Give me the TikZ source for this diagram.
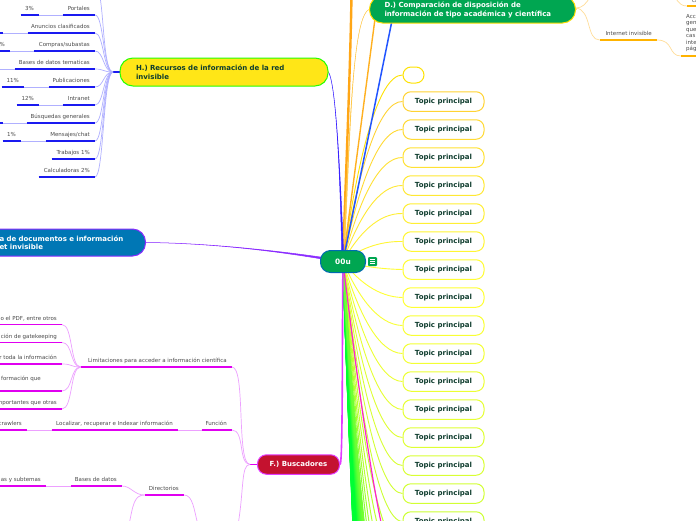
\documentclass[tikz,border=0pt]{standalone}
\usepackage{fontspec}
\setmainfont{DejaVu Sans}
\usetikzlibrary{calc}
\pgfdeclarelayer{bg}
\pgfsetlayers{bg,main}
\definecolor{inkd}{HTML}{0F3D2E}
\definecolor{inkg}{HTML}{4A4A4A}
\definecolor{ublue}{HTML}{1A1AF0}
\definecolor{lblue}{HTML}{B0B0FF}
\definecolor{umag}{HTML}{E000F0}
\definecolor{lmag}{HTML}{EDA0FF}
\definecolor{uora}{HTML}{FFB300}
\definecolor{lora}{HTML}{FFDD99}
\definecolor{dgreen}{HTML}{00A651}
\definecolor{hfill}{HTML}{FFE617}
\definecolor{bfill}{HTML}{0077B5}
\definecolor{ffill}{HTML}{C4122F}
\definecolor{vlink}{HTML}{8A2BFF}
\definecolor{flink}{HTML}{E23CFF}
\definecolor{oa}{HTML}{FFA616}
\definecolor{ob}{HTML}{FFB020}
\definecolor{oc}{HTML}{FFC84A}
\definecolor{bl}{HTML}{2255FF}
\definecolor{hl}{HTML}{3A22FF}
\definecolor{pk}{HTML}{FF20D0}
\tikzset{
  lbl/.style={anchor=south east,font=\fontsize{5.5}{6.5}\selectfont,text=inkg,inner xsep=5pt,inner ysep=3pt,text height=4pt,text depth=1.2pt},
  main topic/.style={rounded corners=13pt,line width=1pt,inner ysep=0pt,align=left,font=\fontsize{7}{9}\selectfont\bfseries},
  topicbox/.style={draw,fill=white,rounded corners=8pt,line width=1pt,minimum width=81pt,minimum height=19.5pt,inner sep=0pt,text=inkd,font=\fontsize{7}{8}\selectfont\bfseries},
}
\newcommand{\lf}[6]{%
  \pgfmathsetlengthmacro{\lfw}{#3-#2-10}%
  \node[lbl] (#1) at (#3,#4) {\makebox[\lfw][r]{#5}};
  \draw[#6,line width=1.2pt] (#1.south west) -- (#1.south east);
}
\newcommand{\taper}[6]{\filldraw[#1,line width=.5pt] ($(#2)+(#6)$) .. controls (#4) and (#5) .. (#3) .. controls (#5) and (#4) .. ($(#2)-(#6)$) -- cycle;}
\begin{document}
\begin{tikzpicture}[x=1pt,y=-1pt]
\useasboundingbox (0,0) rectangle (696,520);
\begin{pgfonlayer}{bg}
\fill[white] (0,0) rectangle (696,520);
\end{pgfonlayer}

% main nodes
\node[fill=dgreen,draw=blue!40!cyan!70!black,line width=1pt,rounded corners=10pt,minimum width=45pt,minimum height=22pt,inner sep=0pt,text=white,font=\fontsize{7.4}{9}\selectfont\bfseries] (root) at (343,261.5) {00u};
\node[main topic,fill=hfill,draw=green!85!yellow,text=inkd,anchor=west,text width=176pt,inner xsep=16pt,minimum height=28pt] (H) at (119.5,72) {H.) Recursos de información de la red\\invisible};
\node[main topic,fill=dgreen,draw=yellow!80!orange,text=white,anchor=west,text width=176pt,inner xsep=15pt,minimum height=27pt] (D) at (369,9.5) {D.) Comparación de disposición de\\información de tipo académica y científica};
\node[main topic,fill=bfill,draw=vlink,text=white,anchor=east,text width=130pt,inner xsep=16pt,minimum height=27pt,font=\fontsize{7}{8.5}\selectfont\bfseries] (B) at (146,242.5) {a de documentos e información\\et invisible};
\node[main topic,fill=ffill,draw=flink,text=white,rounded corners=9pt,minimum width=82pt,minimum height=19.5pt,inner xsep=0pt,align=center,font=\fontsize{7}{9}\selectfont\bfseries] (F) at (298.5,464.5) {F.) Buscadores};

% note icon
\node[fill=dgreen,rounded corners=1pt,minimum size=9pt,inner sep=0pt] (note) at (372.5,261.5) {};
\draw[white,line width=.7pt] ($(note.center)+(-2.5,-2.2)$) -- ++(5,0) ++(-5,2.2) -- ++(5,0) ++(-5,2.2) -- ++(5,0);

% far coordinates
\coordinate (orangeTop) at (351.5,-4);
\coordinate (orangeMid) at (378,-4);
\coordinate (blueTop) at (397,-4);
\coordinate (magEnd) at (386,545);
\coordinate (Fhub) at (250,464.5);
\coordinate (Hhub) at (113,72);
\coordinate (Dhub) at (576,8);
\coordinate (Ftop) at (590,-3);
\coordinate (Hup) at (100,-3);
\coordinate (Fdown) at (238,525);
\coordinate (DirA) at (129,525);
\coordinate (DirB) at (198,525);
\coordinate (topR) at (675,-3);

% topics fan, behind everything
\node[topicbox,draw=yellow!85!orange,minimum width=21pt,minimum height=16pt] (t) at (413.5,75) {};
\begin{pgfonlayer}{bg}
\draw[yellow!85!orange,line width=.9pt] (root.center) .. controls (358,157) and (378,75) .. (t.west);
\end{pgfonlayer}
\foreach \n in {0,...,15}{
  \pgfmathsetmacro{\Y}{101+28*\n}
  \pgfmathsetmacro{\cy}{261+0.55*(\Y-261)}
  \pgfmathsetmacro{\rr}{max(0,min(1,1-(\Y-300)/1100))}
  \pgfmathsetmacro{\gg}{min(1,0.8+0.2*(\Y-75)/200)}
  \definecolor{tc}{rgb}{\rr,\gg,0.2}
  \node[topicbox,draw=tc] (t\n) at (443.5,\Y+.5) {Topic principal};
  \begin{pgfonlayer}{bg}
  \draw[tc,line width=.9pt] (root.center) .. controls (358,\cy) and (378,\Y) .. (t\n.west);
  \end{pgfonlayer}
}
\begin{pgfonlayer}{bg}
\foreach \Y in {549,577,...,700}{
  \pgfmathsetmacro{\cy}{261+0.55*(\Y-261)}
  \pgfmathsetmacro{\rr}{\Y<600 ? 1-(\Y-300)/1100 : max(0,0.73*(850-\Y)/250)}
  \definecolor{tc}{rgb}{\rr,1,0.2}
  \coordinate (far) at (403,\Y);
  \draw[tc,line width=1pt] (root.center) .. controls (358,\cy) and (378,\Y) .. (far);
}
\foreach \Y in {1060,1055,...,700}{
  \pgfmathsetmacro{\cy}{261+0.55*(\Y-261)}
  \pgfmathsetmacro{\rr}{max(0,0.73*(850-\Y)/250)}
  \definecolor{tc}{rgb}{\rr,1,0.2}
  \coordinate (far) at (403,\Y);
  \draw[tc,line width=1.5pt] (root.center) .. controls (358,\cy) and (378,\Y) .. (far);
}
% upward links
\draw[oa,line width=2.4pt] (root.center) .. controls (346,170) and (350,80) .. (orangeTop);
\taper{oc}{root.center}{D.west}{350,150}{351,18}{.9,0}
\draw[ob,line width=1.4pt] (root.center) -- (orangeMid);
\draw[bl,line width=1.5pt] (root.center) -- (blueTop);
\taper{hl}{root.center}{H.east}{340,170}{336,85}{1,0}
\taper{vlink}{root.center}{B.east}{275,250}{205,243}{0,1.2}
\draw[flink,line width=1.6pt] (root.center) .. controls (342,330) and (343,466) .. (F.east);
\draw[pk,line width=1.2pt] (root.center) .. controls (350,320) and (368,470) .. (magEnd);
% hubs
\draw[ublue,line width=1.4pt] (Hhub) -- (H.west);
\draw[umag,line width=1.2pt] (Fhub) -- (F.west);
\draw[lora,line width=1.4pt] (Dhub) -- (D.east);
\end{pgfonlayer}

% H branch
\lf{por}{63}{95}{15}{Portales}{ublue}
\lf{tres}{21}{39}{15}{3\%}{ublue}
\lf{anu}{28}{95}{33}{Anuncios clasificados}{ublue}
\lf{anub}{-6}{3}{33}{}{ublue}
\lf{com}{34}{95}{51}{Compras/subastas}{ublue}
\lf{comb}{-20}{10}{51}{9\%}{ublue}
\lf{bas}{15}{95}{69}{Bases de datos tematicas}{ublue}
\lf{basb}{-20}{-4}{69}{}{ublue}
\lf{pub}{49}{95}{87}{Publicaciones}{ublue}
\lf{once}{2}{24}{87}{11\%}{ublue}
\lf{int}{63}{95}{105}{Intranet}{ublue}
\lf{doce}{17}{39}{105}{12\%}{ublue}
\lf{bus}{27}{95}{123}{Búsquedas generales}{ublue}
\lf{busb}{-6}{3}{123}{}{ublue}
\lf{men}{46}{95}{141}{Mensajes/chat}{ublue}
\lf{uno}{3}{21}{141}{1\%}{ublue}
\lf{tra}{52}{95}{159}{Trabajos 1\%}{ublue}
\lf{cal}{39}{95}{177}{Calculadoras 2\%}{ublue}
\begin{pgfonlayer}{bg}
\foreach \a in {por,anu,com,bas,pub,int,bus,men,tra,cal}{
  \draw[lblue,line width=.7pt] (\a.south east) .. controls +(9,0) and (103,72) .. (Hhub);
}
\draw[lblue,line width=.7pt] (Hhub) .. controls (104,72) and (104,20) .. (Hup);
\foreach \a/\b in {tres/por,anub/anu,comb/com,basb/bas,once/pub,doce/int,busb/bus,uno/men}{
  \draw[lblue,line width=.7pt] (\a.south east) -- (\b.south west);
}
\end{pgfonlayer}

% F branch
\lf{lim}{81}{232}{367}{Limitaciones para acceder a información científica}{umag}
\lf{l1}{-6}{62}{324.5}{o el PDF, entre otros}{umag}
\lf{l2}{-6}{62}{342.5}{ción de gatekeeping}{umag}
\lf{l3}{-6}{62}{364}{r toda la información}{umag}
\lf{l4}{-6}{62}{391}{\raisebox{6.5pt}{formación que}\hspace{16pt}}{umag}
\lf{l5}{-6}{62}{409}{nportantes que otras}{umag}
\lf{fun}{202}{232}{430}{Función}{umag}
\lf{loc}{52}{178}{430}{Localizar, recuperar e Indexar información}{umag}
\lf{cra}{-6}{27}{430}{crawlers}{umag}
\lf{dir}{145}{184}{495}{Directorios}{umag}
\lf{bdd}{71}{122}{486}{Bases de datos}{umag}
\lf{sub}{-6}{46}{486}{as y subtemas}{umag}
\begin{pgfonlayer}{bg}
\foreach \a in {l1,l2,l3,l4,l5}{
  \draw[lmag,line width=.7pt] (\a.south east) .. controls +(11,0) and (70,367) .. (lim.south west);
}
\draw[lmag,line width=.7pt] (lim.south east) .. controls (246,367) and (236,464) .. (Fhub);
\draw[lmag,line width=.7pt] (fun.south east) .. controls (245,430) and (238,464) .. (Fhub);
\draw[lmag,line width=.7pt] (Fhub) .. controls (241,464) and (244,490) .. (Fdown);
\draw[lmag,line width=.7pt] (loc.south east) -- (fun.south west);
\draw[lmag,line width=.7pt] (cra.south east) -- (loc.south west);
\draw[lmag,line width=.7pt] (sub.south east) -- (bdd.south west);
\draw[lmag,line width=.7pt] (bdd.south east) .. controls (131,486) and (134,495) .. (dir.south west);
\draw[lmag,line width=.7pt] (dir.south west) .. controls (134,495) and (133,505) .. (DirA);
\draw[lmag,line width=.7pt] (dir.south east) .. controls (193,495) and (194,510) .. (DirB);
\end{pgfonlayer}

% D branch
\lf{inv}{600}{657}{40}{Internet invisible}{uora}
\node[lbl,anchor=north west,inner sep=0pt,text height=,text depth=,align=left,font=\fontsize{5.5}{6.5}\selectfont] (acc) at (686,14) {Acc\\gen\\que\\cas\\inte\\pág};
\coordinate (accA) at (681,56);
\coordinate (accB) at (700,56);
\coordinate (topA) at (687,6);
\coordinate (topB) at (700,6);
\node[lbl,anchor=west,inner sep=0pt,text height=,text depth=] (ca) at (692,1) {ca};
\draw[uora,line width=1.2pt] (accA) -- (accB);
\draw[uora,line width=1.2pt] (topA) -- (topB);
\begin{pgfonlayer}{bg}
\draw[lora,line width=.7pt] (Dhub) .. controls (592,10) and (586,40) .. (inv.south west);
\draw[lora,line width=.7pt] (Dhub) .. controls (582,8) and (586,4) .. (Ftop);
\draw[lora,line width=.7pt] (inv.south east) .. controls (674,40) and (668,56) .. (accA);
\draw[lora,line width=.7pt] (topR) .. controls (679,4) and (682,6) .. (topA);
\end{pgfonlayer}
\end{tikzpicture}
\end{document}
